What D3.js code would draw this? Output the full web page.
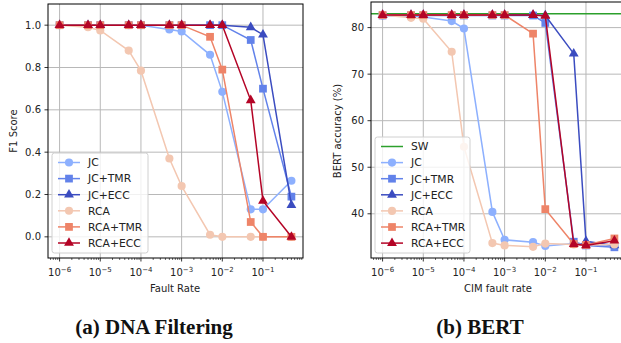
<!DOCTYPE html>
<html>
<head>
<meta charset="utf-8">
<script src="https://cdn.jsdelivr.net/npm/d3@7"></script>
<style>
  body { margin: 0; background: #fff; }
  text { font-family: 'DejaVu Sans', sans-serif; }
  text.caption { font-family: 'Liberation Serif', serif; }
</style>
</head>
<body>
<svg id="chart" width="621" height="343"></svg>
<script>
// x values for both panels
let faultRates = [1e-6, 5e-6, 1e-5, 5e-5, 1e-4, 5e-4, 1e-3, 5e-3, 1e-2, 5e-2, 1e-1, 5e-1]

let seriesNames = ['JC', 'JC+TMR', 'JC+ECC', 'RCA', 'RCA+TMR', 'RCA+ECC']

// (a) DNA filtering, F1 score
let dnaJC = [1.0, 1.0, 1.0, 1.0, 1.0, 0.98, 0.97, 0.86, 0.685, 0.13, 0.13, 0.265]
let dnaJCTMR = [1.0, 1.0, 1.0, 1.0, 1.0, 1.0, 1.0, 1.0, 1.0, 0.93, 0.70, 0.19]
let dnaJCECC = [1.0, 1.0, 1.0, 1.0, 1.0, 1.0, 1.0, 1.0, 1.0, 0.99, 0.955, 0.15]
let dnaRCA = [1.0, 0.99, 0.975, 0.88, 0.785, 0.37, 0.24, 0.01, 0.0, 0.0, 0.0, 0.0]
let dnaRCATMR = [1.0, 1.0, 1.0, 1.0, 1.0, 1.0, 1.0, 0.945, 0.79, 0.07, 0.0, 0.0]
let dnaRCAECC = [1.0, 1.0, 1.0, 1.0, 1.0, 1.0, 1.0, 1.0, 1.0, 0.645, 0.17, 0.0]

// (b) BERT accuracy (%)
let bertSW = 83.0
let bertJC = [82.6, 82.5, 82.3, 81.4, 79.8, 40.4, 34.4, 33.9, 33.1, 33.6, 33.3, 33.1]
let bertJCTMR = [82.6, 82.6, 82.6, 82.6, 82.6, 82.6, 82.6, 82.6, 81.0, 34.0, 33.2, 32.8]
let bertJCECC = [82.7, 82.7, 82.7, 82.7, 82.7, 82.7, 82.7, 82.7, 82.6, 74.4, 34.1, 33.2]
let bertRCA = [82.7, 82.1, 81.9, 74.8, 54.4, 33.7, 33.2, 32.9, 33.6, 33.4, 33.3, 33.4]
let bertRCATMR = [82.7, 82.7, 82.7, 82.7, 82.7, 82.7, 82.7, 78.7, 41.0, 33.5, 33.3, 34.7]
let bertRCAECC = [82.7, 82.7, 82.7, 82.7, 82.7, 82.7, 82.7, 82.7, 82.5, 33.5, 33.2, 34.2]

let dnaTicks = [0.0, 0.2, 0.4, 0.6, 0.8, 1.0]
let bertTicks = [40, 50, 60, 70, 80]
let xTickExps = [-6, -5, -4, -3, -2, -1]

let colors = ['#8db0fe', '#6282ea', '#3b4cc0', '#f3c7b1', '#ee8468', '#b40426']
let symbols = [d3.symbolCircle, d3.symbolSquare, d3.symbolTriangle, d3.symbolCircle, d3.symbolSquare, d3.symbolTriangle]
let symbolSizes = [52, 60, 42, 52, 60, 42]

let svg = d3.select('#chart')

// log x domain with 5% margin in log space, like matplotlib
let lo = Math.log10(1e-6)
let hi = Math.log10(5e-1)
let pad = (hi - lo) * 0.05
let xDomain = [Math.pow(10, lo - pad), Math.pow(10, hi + pad)]

function drawPanel(opts) {
  let x = d3.scaleLog().domain(xDomain).range([opts.left, opts.left + 255])
  let y = d3.scaleLinear().domain(opts.yDomain).range([258, opts.top])
  let g = svg.append('g')

  // grid
  g.selectAll('.xgrid')
    .data(xTickExps)
    .enter()
    .append('line')
    .attr('x1', d => x(Math.pow(10, d)))
    .attr('x2', d => x(Math.pow(10, d)))
    .attr('y1', y.range()[0])
    .attr('y2', y.range()[1])
    .attr('stroke', '#b8b8b8')
    .attr('stroke-width', 1)
  g.selectAll('.ygrid')
    .data(opts.yTicks)
    .enter()
    .append('line')
    .attr('x1', x.range()[0])
    .attr('x2', x.range()[1])
    .attr('y1', d => y(d))
    .attr('y2', d => y(d))
    .attr('stroke', '#b8b8b8')
    .attr('stroke-width', 1)

  // reference line
  if (opts.refValue !== undefined) {
    g.append('line')
      .attr('x1', x.range()[0])
      .attr('x2', x.range()[1])
      .attr('y1', y(opts.refValue))
      .attr('y2', y(opts.refValue))
      .attr('stroke', '#2ca02c')
      .attr('stroke-width', 1.5)
  }

  let line = d3
    .line()
    .x((d, i) => x(faultRates[i]))
    .y(d => y(d))

  opts.series.forEach((values, s) => {
    g.append('path')
      .datum(values)
      .attr('d', line)
      .attr('fill', 'none')
      .attr('stroke', colors[s])
      .attr('stroke-width', 1.5)
    g.selectAll('.pt' + s)
      .data(values)
      .enter()
      .append('path')
      .attr('d', d3.symbol().type(symbols[s]).size(symbolSizes[s]))
      .attr('transform', (d, i) => 'translate(' + x(faultRates[i]) + ',' + y(d) + ')')
      .attr('fill', colors[s])
  })

  // frame
  g.append('rect')
    .attr('x', x.range()[0])
    .attr('y', y.range()[1])
    .attr('width', x.range()[1] - x.range()[0])
    .attr('height', y.range()[0] - y.range()[1])
    .attr('fill', 'none')
    .attr('stroke', '#000')
    .attr('stroke-width', 1)

  // x axis: major + minor ticks
  let minor = []
  for (let e = -7; e <= 0; e++) {
    for (let m = 2; m <= 9; m++) {
      let v = m * Math.pow(10, e)
      if (v > xDomain[0] && v < xDomain[1]) minor.push(v)
    }
  }
  g.selectAll('.minor')
    .data(minor)
    .enter()
    .append('line')
    .attr('x1', d => x(d))
    .attr('x2', d => x(d))
    .attr('y1', 258)
    .attr('y2', 260)
    .attr('stroke', '#000')
    .attr('stroke-width', 0.6)
  g.selectAll('.major')
    .data(xTickExps)
    .enter()
    .append('line')
    .attr('x1', d => x(Math.pow(10, d)))
    .attr('x2', d => x(Math.pow(10, d)))
    .attr('y1', 258)
    .attr('y2', 261.5)
    .attr('stroke', '#000')
    .attr('stroke-width', 0.8)
  let xl = g.selectAll('.xlab')
    .data(xTickExps)
    .enter()
    .append('text')
    .attr('x', d => x(Math.pow(10, d)))
    .attr('y', 276)
    .attr('text-anchor', 'middle')
    .attr('font-size', 10)
    .attr('fill', '#222')
  xl.append('tspan').text('10')
  xl.append('tspan')
    .text(d => '\u2212' + Math.abs(d))
    .attr('font-size', 7)
    .attr('dy', -4)

  // y axis
  g.selectAll('.ytick')
    .data(opts.yTicks)
    .enter()
    .append('line')
    .attr('x1', opts.left - 3.5)
    .attr('x2', opts.left)
    .attr('y1', d => y(d))
    .attr('y2', d => y(d))
    .attr('stroke', '#000')
    .attr('stroke-width', 0.8)
  g.selectAll('.ylab')
    .data(opts.yTicks)
    .enter()
    .append('text')
    .text(d => opts.yFormat(d))
    .attr('x', opts.left - 7)
    .attr('y', d => y(d))
    .attr('dy', '0.35em')
    .attr('text-anchor', 'end')
    .attr('font-size', 10)
    .attr('fill', '#222')

  // axis titles
  g.append('text')
    .text(opts.xTitle)
    .attr('x', opts.left + 127)
    .attr('y', 292)
    .attr('text-anchor', 'middle')
    .attr('font-size', 10)
    .attr('fill', '#222')
  g.append('text')
    .text(opts.yTitle)
    .attr('transform', 'translate(' + opts.yTitleX + ',' + 131 + ') rotate(-90)')
    .attr('text-anchor', 'middle')
    .attr('font-size', 10)
    .attr('fill', '#222')

  // legend
  let items = []
  if (opts.refValue !== undefined) items.push({ name: 'SW', color: '#2ca02c', symbol: null })
  seriesNames.forEach((n, i) => items.push({ name: n, color: colors[i], symbol: symbols[i], size: symbolSizes[i] }))
  let lg = g.append('g')
  lg.append('rect')
    .attr('x', opts.legend.x)
    .attr('y', opts.legend.y)
    .attr('width', opts.legend.w)
    .attr('height', opts.legend.h)
    .attr('rx', 2.5)
    .attr('fill', 'rgba(255,255,255,0.8)')
    .attr('stroke', '#d0d0d0')
  items.forEach((it, i) => {
    let cy = opts.legend.y + 9.5 + i * 16.1
    let hx = opts.legend.x + 6
    lg.append('line')
      .attr('x1', hx)
      .attr('x2', hx + 22)
      .attr('y1', cy)
      .attr('y2', cy)
      .attr('stroke', it.color)
      .attr('stroke-width', 1.5)
    if (it.symbol) {
      lg.append('path')
        .attr('d', d3.symbol().type(it.symbol).size(it.size))
        .attr('transform', 'translate(' + (hx + 11) + ',' + cy + ')')
        .attr('fill', it.color)
    }
    lg.append('text')
      .text(it.name)
      .attr('x', hx + 30)
      .attr('y', cy)
      .attr('dy', '0.36em')
      .attr('font-size', 10.8)
      .attr('fill', '#222')
  })

  // caption
  svg.append('text')
    .attr('class', 'caption')
    .text(opts.caption)
    .attr('x', opts.captionX)
    .attr('y', 334)
    .attr('text-anchor', 'middle')
    .attr('font-weight', 'bold')
    .attr('font-size', 21)
    .attr('fill', '#111')
}

drawPanel({
  left: 48,
  top: 4,
  yDomain: [-0.1, 1.1],
  yTicks: dnaTicks,
  yFormat: d3.format('.1f'),
  series: [dnaJC, dnaJCTMR, dnaJCECC, dnaRCA, dnaRCATMR, dnaRCAECC],
  xTitle: 'Fault Rate',
  yTitle: 'F1 Score',
  yTitleX: 17,
  legend: { x: 52, y: 153, w: 96, h: 100 },
  caption: '(a) DNA Filtering',
  captionX: 154
})

drawPanel({
  left: 371,
  top: 2,
  yDomain: [30.5, 85.5],
  yTicks: bertTicks,
  yFormat: d3.format('d'),
  refValue: bertSW,
  series: [bertJC, bertJCTMR, bertJCECC, bertRCA, bertRCATMR, bertRCAECC],
  xTitle: 'CIM fault rate',
  yTitle: 'BERT accuracy (%)',
  yTitleX: 341,
  legend: { x: 375, y: 137, w: 95, h: 116 },
  caption: '(b) BERT',
  captionX: 480
})
</script>
</body>
</html>
